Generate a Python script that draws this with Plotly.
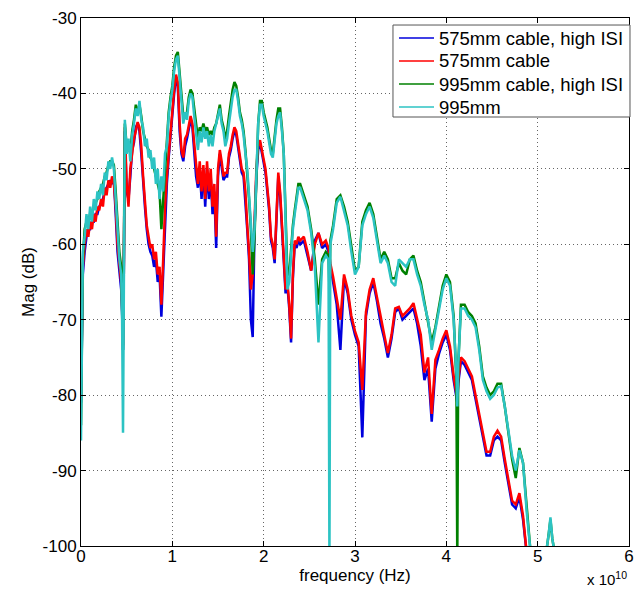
import plotly.graph_objects as go

# frequency in units of 1e10 Hz
freq = [
    0.00, 0.02, 0.04, 0.06, 0.08, 0.10, 0.12, 0.14, 0.16, 0.18,
    0.20, 0.22, 0.24, 0.26, 0.28, 0.30, 0.32, 0.34, 0.36, 0.38,
    0.40, 0.42, 0.44, 0.45, 0.46, 0.47, 0.48, 0.50, 0.52, 0.54, 0.56, 0.58,
    0.60, 0.62, 0.64, 0.66, 0.68, 0.70, 0.72, 0.74, 0.76, 0.78,
    0.80, 0.82, 0.84, 0.86, 0.88, 0.90, 0.92, 0.94, 0.96, 0.98,
    1.00, 1.02, 1.04, 1.06, 1.08, 1.10, 1.12, 1.14, 1.16, 1.18,
    1.20, 1.22, 1.24, 1.26, 1.28, 1.30, 1.32, 1.34, 1.36, 1.38,
    1.40, 1.42, 1.44, 1.46, 1.48, 1.50, 1.52, 1.54, 1.56, 1.58,
    1.60, 1.62, 1.64, 1.66, 1.68, 1.70, 1.72, 1.74, 1.76, 1.78,
    1.80, 1.82, 1.84, 1.86, 1.88, 1.90, 1.92, 1.94, 1.96, 1.98,
    2.00, 2.02, 2.04, 2.06, 2.08, 2.10, 2.12, 2.14, 2.16, 2.18,
    2.20, 2.22, 2.24, 2.26, 2.28, 2.30, 2.32, 2.34, 2.36, 2.38,
    2.40, 2.44, 2.48, 2.52, 2.56, 2.60, 2.64, 2.68, 2.71, 2.72, 2.73,
    2.76, 2.80, 2.84, 2.88, 2.92, 2.96, 3.00, 3.04, 3.08, 3.12,
    3.16, 3.20, 3.24, 3.28, 3.32, 3.36, 3.40, 3.44, 3.48, 3.52,
    3.56, 3.60, 3.64, 3.68, 3.72, 3.76, 3.80, 3.84, 3.88, 3.92,
    3.96, 4.00, 4.04, 4.08, 4.11, 4.12, 4.13, 4.16, 4.20, 4.24,
    4.28, 4.32, 4.36, 4.40, 4.44, 4.48, 4.52, 4.56, 4.60, 4.64,
    4.68, 4.72, 4.76, 4.80, 4.84, 4.88, 4.92, 4.96, 5.00, 5.04,
    5.08, 5.12, 5.14, 5.16, 5.20,
]

mag_575_high_isi = [
    -81, -64, -61, -59, -58, -58, -57, -57, -56, -56,
    -55, -54.5, -54, -53, -52.5, -52, -51.5, -52, -51.5, -56,
    -61, -63.5, -66, -69, -74, -62, -45, -53, -54, -51, -47.5, -46.5,
    -44.5, -44, -45, -48, -52, -55, -58, -60, -61, -61.5,
    -63, -62, -65, -64, -69.6, -63, -56, -52, -48.5, -45.5,
    -42.5, -40, -38, -39, -45, -48, -49, -47, -46, -44.5,
    -43.5, -44.5, -48, -51, -52.5, -50, -54, -50, -55, -50,
    -54, -51, -56, -53, -60.5, -51, -48, -49.5, -51.5, -51,
    -51, -48.5, -47.5, -46, -45, -45.5, -47, -48.5, -50.5, -51,
    -54, -58, -62, -70, -72.3, -58, -51, -47.5, -46.5, -48,
    -49.5, -50.5, -53, -55.5, -59.5, -60.5, -62.5, -55.5, -51, -53.5,
    -58, -61.5, -66.5, -65.5, -68.5, -73, -64.5, -60, -60.5, -59.5,
    -60, -59.5, -61.5, -63.5, -59.5, -58.5, -60.5, -60, -61, -62, -63,
    -65, -68, -74, -64.5, -66.5, -70, -72, -73.5, -85.6, -69.5,
    -66.5, -65, -67.5, -70.5, -72.5, -75, -72.5, -69, -68.5, -70,
    -69.5, -69, -68.5, -70.5, -73.5, -78, -76.5, -83.5, -76.5, -74.5,
    -73, -72, -74, -78, -80, -81, -78.5, -75.5, -76, -77,
    -78, -80.5, -83, -85.5, -88, -88, -86, -85.5, -86, -89,
    -92, -94.5, -95, -93.5, -96.5, -101, -102, -102, -102, -102,
    -102, -102, -102, -102, -102,
]

mag_575 = [
    -80, -63, -60, -58, -59, -57, -58, -56, -57, -55,
    -55.5, -54, -55, -52.5, -53.5, -51.5, -52.5, -51, -52, -55,
    -60, -63, -65, -68, -73.4, -62, -44.5, -52, -55, -50, -48, -46,
    -45, -43.8, -44.5, -47, -51, -54, -57.5, -59, -60.5, -60,
    -62, -61, -64, -63, -68, -62, -55, -51, -48, -45,
    -43, -39.5, -37.5, -38.5, -44, -47.5, -48.5, -46, -45.5, -44,
    -43, -44, -47, -50, -52, -49, -53, -49.5, -54, -49,
    -53, -50, -55, -52, -59, -50, -47.5, -49, -51, -50.5,
    -50.5, -48, -47, -45.5, -44.5, -45, -46.5, -48, -50, -50.5,
    -53, -57.5, -61, -66, -64, -57, -50, -47, -46.2, -47.5,
    -49, -50, -52.5, -55, -59, -60, -62, -55, -50.5, -53,
    -57.5, -61, -66, -65, -68, -72.5, -64, -59.5, -60, -59,
    -59.5, -59, -61, -63.5, -60, -58.5, -60, -59.5, -60.5, -61.5, -62.5,
    -64.3, -67, -70, -64, -66, -69.5, -71.5, -73, -79.3, -69,
    -66, -64.5, -67, -70, -72, -74.4, -72, -68.5, -68.3, -69.5,
    -69, -68.5, -67.8, -70, -72, -77, -75, -82.5, -75.3, -74,
    -72.5, -71.4, -73.5, -77.5, -79.5, -80.6, -78, -75, -75.5, -76.5,
    -77.5, -80, -82.5, -85, -87.5, -87.5, -85.5, -84.7, -85.5, -88.5,
    -91.5, -94, -94.5, -93, -96, -101, -102, -102, -102, -102,
    -102, -102, -102, -102, -102,
]

mag_995_high_isi = [
    -84, -62, -58, -57, -57, -56, -56, -55, -54.5, -54,
    -53, -52.5, -52, -51, -50.5, -49.5, -49, -49, -49.5, -53,
    -57, -61, -63, -68, -74, -60, -44, -47, -46.5, -48, -45, -43.5,
    -41.5, -42.5, -41.5, -43, -45, -46, -47, -47.5, -48.5, -49,
    -50, -51, -52, -53, -58, -54, -49, -46, -42.5, -40.5,
    -39, -36.5, -35, -34.5, -37, -40, -43, -43, -42.5, -40.5,
    -39.5, -40, -42.5, -44, -46, -44.5, -45, -44, -45, -44.5,
    -45.5, -45, -45.5, -44.5, -44, -42.5, -41.5, -43.5, -44.5, -46,
    -45, -43, -41, -39.5, -38.5, -39, -40.5, -42.5, -43.5, -45,
    -47.5, -50.5, -54, -58, -64, -59, -50, -44, -41, -41,
    -42.5, -43.5, -44.5, -46, -47.5, -48, -45.5, -43.5, -42, -42,
    -44.5, -48, -56, -64, -64, -60.5, -57.5, -55.5, -53.5, -52,
    -52, -53.5, -55, -58, -62, -68, -62, -61, -61.5, -66, -59.5,
    -57.5, -54, -53.5, -55, -57, -60.5, -63.5, -63, -57, -55.5,
    -54.5, -56, -59, -62, -61, -62, -64.5, -64.5, -62.5, -63.5,
    -64, -62, -61.5, -63.5, -65, -67.5, -70, -73, -71, -68.5,
    -65.5, -64, -65, -69.5, -78, -102, -76, -68, -68, -69,
    -69.5, -70.5, -73.5, -77.5, -79, -80, -79.5, -78.5, -78.5, -81.5,
    -85, -88.5, -91, -87, -89, -95, -100.5, -102, -102, -102,
    -102, -98.5, -96.5, -99, -102,
]

mag_995 = [
    -86, -61, -59, -56, -58, -55, -57, -54, -55.5, -53,
    -54, -52, -53.5, -50.5, -51.5, -49, -50, -48.5, -50, -54,
    -58, -62, -64, -70, -85, -60, -43.5, -48, -46, -49, -45.5, -44,
    -42, -43, -41, -43.5, -44.5, -47, -46, -48.5, -47.5, -50,
    -48.5, -52, -50, -54, -51, -53, -48, -47, -43, -41,
    -39.5, -37, -35.5, -35, -37.5, -41, -44, -42.5, -43.5, -41,
    -40, -40.5, -43, -45, -47.5, -45, -46.5, -44.5, -46, -45,
    -47, -45.5, -47, -45, -44, -43, -42, -44, -45, -47,
    -46, -44, -42, -40.5, -39.5, -39.5, -41, -43, -44, -45.5,
    -48, -50, -53.5, -57, -61, -58, -50, -44, -41.5, -41.5,
    -43, -44, -45, -46.5, -48, -48.5, -46, -44, -43, -42.5,
    -45, -48, -57, -66, -65, -61, -58, -56, -54, -52.5,
    -52.5, -54, -55.5, -58.5, -63, -73, -62.5, -61.5, -62, -102, -60,
    -58, -54.5, -53.7, -55.5, -57.5, -61, -64, -63, -57.5, -56,
    -55, -56.5, -59.5, -62.5, -61.5, -62.5, -65, -65.5, -62, -62.5,
    -63, -62, -62, -64, -65.5, -68, -70, -74, -71.5, -69,
    -66, -64.5, -65.5, -70, -77, -81.5, -76, -68.5, -68.5, -69.5,
    -70, -71, -74, -78, -79.5, -80.5, -80, -79, -78.8, -81.5,
    -85, -88, -90, -87.3, -89, -95.5, -100.5, -102, -102, -102,
    -102, -98.5, -96.2, -99, -102,
]

series_names = ["575mm cable, high ISI", "575mm cable", "995mm cable, high ISI", "995mm"]
series_values = [mag_575_high_isi, mag_575, mag_995_high_isi, mag_995]
series_colors = ["#0000dd", "#ff0000", "#008000", "#2cc3c3"]

x_ticks = [0, 1, 2, 3, 4, 5, 6]
y_ticks = [-100, -90, -80, -70, -60, -50, -40, -30]

fig = go.Figure()
for name, vals, col in zip(series_names, series_values, series_colors):
    fig.add_trace(go.Scatter(x=freq, y=vals, mode="lines", name=name,
                             showlegend=False, hoverinfo="skip",
                             line=dict(color=col, width=2.5)))

font_family = "Liberation Sans, Arial, sans-serif"
axis_common = dict(
    showline=True, linecolor="black", linewidth=1, mirror="ticks",
    ticks="inside", ticklen=5, tickcolor="black",
    showgrid=True, gridcolor="rgba(0,0,0,0.6)", griddash="1px,3px", gridwidth=1,
    zeroline=False, automargin=False,
    tickfont=dict(family=font_family, size=17, color="black"),
)

fig.update_layout(
    width=643, height=592,
    margin=dict(l=81, r=14, t=18, b=46),
    paper_bgcolor="white", plot_bgcolor="white",
    font=dict(family=font_family, size=17, color="black"),
    xaxis=dict(range=[0, 6], tickvals=x_ticks, ticktext=[str(v) for v in x_ticks],
               ticklabelstandoff=-5,
               title=dict(text="frequency (Hz)", font=dict(size=17), standoff=0),
               **axis_common),
    yaxis=dict(range=[-100, -30], tickvals=y_ticks, ticktext=[str(v) for v in y_ticks],
               title=dict(text="Mag (dB)", font=dict(size=17), standoff=3),
               **axis_common),
    showlegend=False,
)

# legend box drawn in the upper-right corner of the axes
leg_x0, leg_x1 = 0.5693, 1.0018
leg_y0, leg_y1 = 0.8125, 0.9867
leg_rows = [0.9621, 0.9186, 0.8750, 0.8314]
line_x0, line_x1, text_x = 0.5803, 0.6442, 0.6496

fig.add_shape(type="rect", xref="paper", yref="paper",
              x0=leg_x0, x1=leg_x1, y0=leg_y0, y1=leg_y1,
              line=dict(color="#555555", width=1), fillcolor="white", layer="above")
for name, col, ry in zip(series_names, series_colors, leg_rows):
    fig.add_shape(type="line", xref="paper", yref="paper",
                  x0=line_x0, x1=line_x1, y0=ry, y1=ry,
                  line=dict(color=col, width=1.5), layer="above")
    fig.add_annotation(text=name, xref="paper", yref="paper", x=text_x, y=ry,
                       xanchor="left", yanchor="middle", showarrow=False,
                       font=dict(family=font_family, size=18.5, color="black"))

fig.add_annotation(text="x 10<sup>10</sup>", xref="paper", yref="paper",
                   x=1.0, y=-0.083, xanchor="right", yanchor="bottom",
                   showarrow=False, font=dict(family=font_family, size=15, color="black"))

fig.write_html("out.html")
